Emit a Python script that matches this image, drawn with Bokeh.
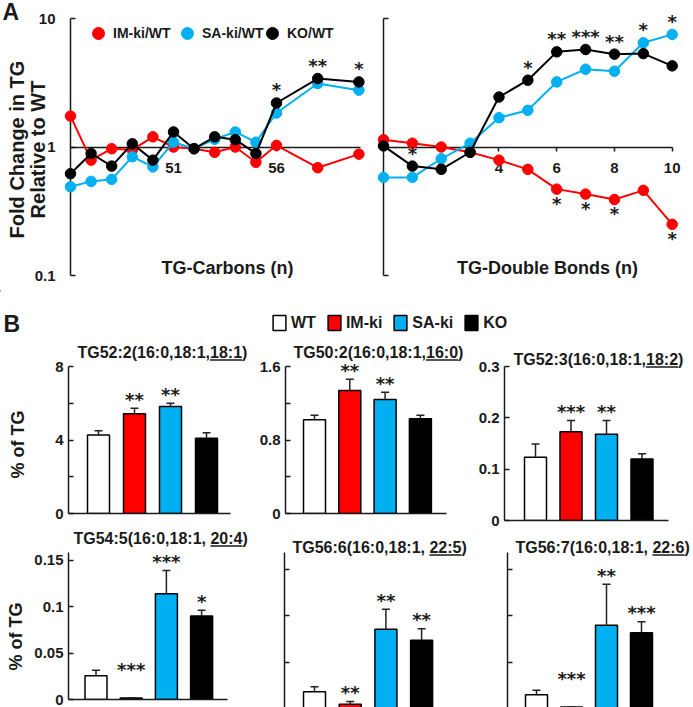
import math
from bokeh.plotting import figure
from bokeh.models import (Range1d, FixedTicker, Legend, LegendItem,
                          Whisker, TeeHead, ColumnDataSource)
from bokeh.layouts import column, row
from bokeh.embed import file_html
from bokeh.resources import INLINE
from bokeh.core.properties import value

# ---------------------------------------------------------------- data: panel A
carbons = [46, 47, 48, 49, 50, 51, 52, 53, 54, 55, 56, 58, 60]
im_carbons = [1.74, 0.79, 0.97, 0.95, 1.20, 1.00, 0.97, 0.91, 1.00, 0.76, 1.03, 0.69, 0.88]
sa_carbons = [0.49, 0.54, 0.56, 0.84, 0.70, 1.09, 0.97, 1.15, 1.31, 1.09, 1.84, 3.12, 2.77]
ko_carbons = [0.62, 0.89, 0.71, 1.06, 0.79, 1.31, 0.97, 1.20, 1.14, 0.89, 2.20, 3.41, 3.21]
carbon_ticks = [51, 56]

double_bonds = [0, 1, 2, 3, 4, 5, 6, 7, 8, 9, 10]
im_bonds = [1.14, 1.07, 1.00, 0.91, 0.79, 0.67, 0.47, 0.43, 0.39, 0.46, 0.25]
sa_bonds = [0.58, 0.58, 0.81, 1.07, 1.69, 1.93, 3.21, 4.03, 3.89, 6.47, 7.52]
ko_bonds = [1.02, 0.71, 0.67, 0.91, 2.45, 3.31, 5.50, 5.74, 5.28, 5.33, 4.28]
bond_ticks = [2, 4, 6, 8, 10]

fold_ticks = [0.1, 1, 10]
fold_tick_labels = ["0.1", "1", "10"]

ratio_names = ["IM-ki/WT", "SA-ki/WT", "KO/WT"]
ratio_keys = ["IM", "SA", "KO"]

carbon_sig_x = [56, 58, 60]
carbon_sig_text = ["*", "**", "*"]
carbon_sig_series = ["KO", "KO", "KO"]
carbon_sig_side = ["above", "above", "above"]

bond_sig_x = [1, 5, 6, 7, 8, 9, 10, 6, 7, 8, 10]
bond_sig_text = ["*", "*", "**", "***", "**", "*", "*", "*", "*", "*", "*"]
bond_sig_series = ["KO", "KO", "KO", "KO", "KO", "SA", "SA", "IM", "IM", "IM", "IM"]
bond_sig_side = ["above", "above", "above", "above", "above", "above", "above",
                 "below", "below", "below", "below"]

# ---------------------------------------------------------------- data: panel B
groups = ["WT", "IM-ki", "SA-ki", "KO"]

tg52_2_title = ["TG52:2(16:0,18:1,", "18:1", ")"]
tg52_2_mean = [4.27, 5.43, 5.82, 4.09]
tg52_2_sem = [0.23, 0.30, 0.18, 0.31]
tg52_2_sig = ["", "**", "**", ""]

tg50_2_title = ["TG50:2(16:0,18:1,", "16:0", ")"]
tg50_2_mean = [1.02, 1.34, 1.24, 1.03]
tg50_2_sem = [0.05, 0.12, 0.08, 0.04]
tg50_2_sig = ["", "**", "**", ""]

tg52_3_title = ["TG52:3(16:0,18:1,", "18:2", ")"]
tg52_3_mean = [0.123, 0.173, 0.168, 0.120]
tg52_3_sem = [0.026, 0.022, 0.027, 0.010]
tg52_3_sig = ["", "***", "**", ""]

tg54_5_title = ["TG54:5(16:0,18:1, ", "20:4", ")"]
tg54_5_mean = [0.0255, 0.0015, 0.114, 0.090]
tg54_5_sem = [0.0060, 0.0004, 0.025, 0.006]
tg54_5_sig = ["", "***", "***", "*"]

tg56_6_title = ["TG56:6(16:0,18:1, ", "22:5", ")"]
tg56_6_mean = [0.018, 0.0046, 0.0854, 0.0735]
tg56_6_sem = [0.0054, 0.0029, 0.0216, 0.0125]
tg56_6_sig = ["", "**", "**", "**"]

tg56_7_title = ["TG56:7(16:0,18:1, ", "22:6", ")"]
tg56_7_mean = [0.0147, 0.0015, 0.0897, 0.0815]
tg56_7_sem = [0.0050, 0.0004, 0.0441, 0.0119]
tg56_7_sig = ["", "***", "**", "***"]

tick_8 = [0, 2, 4, 6, 8]
tick_8_labels = ["0", "", "4", "", "8"]
tick_16 = [0, 0.4, 0.8, 1.2, 1.6]
tick_16_labels = ["0", "", "0.8", "", "1.6"]
tick_03 = [0, 0.1, 0.2, 0.3]
tick_03_labels = ["0", "0.1", "0.2", "0.3"]
tick_015 = [0, 0.05, 0.1, 0.15]
tick_015_labels = ["0", "0.05", "0.1", "0.15"]
tick_015_blank = ["", "", "", ""]

# ---------------------------------------------------------------- style
FONT = "Liberation Sans"
STAR_FONT = "DejaVu Sans"
INK = "#1a1a1a"
RED = "#ff0000"
BLUE = "#00b0f0"
BLACK = "#000000"
ratio_colors = [RED, BLUE, BLACK]
group_colors = ["#ffffff", RED, BLUE, BLACK]

# advance widths of Arial / Liberation Sans Bold glyphs (1/1000 em)
BOLD_W = {"T": 611, "G": 778, ":": 333, "(": 333, ")": 333, ",": 278, " ": 278}
for d in "0123456789":
    BOLD_W[d] = 556


def text_w(s, size):
    return sum(BOLD_W.get(c, 556) for c in s) * size / 1000.0


class Mapper:
    """page pixel -> data coordinate helpers for one frame"""
    def __init__(self, fx, fy, xr, yr, ylog=False):
        self.fx, self.fy, self.xr, self.yr, self.ylog = fx, fy, xr, yr, ylog

    def x(self, px):
        return self.xr[0] + (px - self.fx[0]) / (self.fx[1] - self.fx[0]) * (self.xr[1] - self.xr[0])

    def y(self, py):
        t = (self.fy[1] - py) / (self.fy[1] - self.fy[0])
        if self.ylog:
            a, b = math.log10(self.yr[0]), math.log10(self.yr[1])
            return 10 ** (a + t * (b - a))
        return self.yr[0] + t * (self.yr[1] - self.yr[0])


def make_panel(cx, cy, fx, fy, xr, yr, ylog=False):
    p = figure(frame_width=fx[1] - fx[0], frame_height=fy[1] - fy[0],
               min_border_left=fx[0] - cx[0], min_border_right=cx[1] - fx[1],
               min_border_top=fy[0] - cy[0], min_border_bottom=cy[1] - fy[1],
               x_range=Range1d(*xr), y_range=Range1d(*yr),
               y_axis_type="log" if ylog else "linear",
               output_backend="svg", toolbar_location=None)
    p.outline_line_color = None
    p.grid.visible = False
    p.background_fill_color = "white"
    p.border_fill_color = "white"
    for ax in p.axis:
        ax.axis_line_color = INK
        ax.axis_line_width = 1.5
        ax.major_tick_line_color = INK
        ax.major_tick_line_width = 1.5
        ax.minor_tick_line_color = None
        ax.major_label_text_font = FONT
        ax.major_label_text_font_style = "bold"
        ax.major_label_text_font_size = "15px"
        ax.major_label_text_color = INK
    return p, Mapper(fx, fy, xr, yr, ylog)


def label(p, x, y, text, size, align="center", angle=0):
    """free text drawn as an unclipped text glyph (vertically centred on y)"""
    p.text(x=[x], y=[y], text=[text], text_font=value(FONT), text_font_style="bold",
           text_font_size=f"{size}px", text_color=INK, text_align=align,
           text_baseline="middle", angle=math.radians(angle), level="overlay")


def ratio_panel(p, xs, series, sig_x, sig_text, sig_series, sig_side):
    dots = []
    for ys, col in zip(series, ratio_colors):
        p.line(xs, ys, line_color=col, line_width=2, level="overlay")
        dots.append(p.scatter(xs, ys, size=10.5, fill_color=col, line_color=col, level="overlay"))
    lookup = dict(zip(ratio_keys, series))
    sy = [lookup[s][xs.index(x)] for x, s in zip(sig_x, sig_series)]
    off = [-13 if side == "above" else 14 for side in sig_side]
    src = ColumnDataSource(dict(x=sig_x, y=sy, t=sig_text, o=off))
    p.text(x="x", y="y", text="t", y_offset="o", source=src, text_font=value(STAR_FONT),
           text_font_style="bold", text_font_size="18px", text_color=INK,
           text_align="center", text_baseline="alphabetic", level="overlay")
    return dots


def legend_box(p, item, vx, vy, size="16px", **kw):
    p.add_layout(Legend(items=[item], location=(vx, vy), padding=0, margin=0,
                        border_line_color=None, background_fill_alpha=0,
                        label_text_font=FONT, label_text_font_style="bold",
                        label_text_font_size=size, label_text_color=INK, **kw))


# ================================================================ panel A (left)
carb_range = (46, 46 + 292 / 20.6)
fold_range = (0.1, 10)
pA1, mA1 = make_panel((0, 375), (0, 290), (70, 362), (18, 275), carb_range, fold_range, ylog=True)
dotsA = ratio_panel(pA1, carbons, [im_carbons, sa_carbons, ko_carbons],
                    carbon_sig_x, carbon_sig_text, carbon_sig_series, carbon_sig_side)
ya = pA1.yaxis[0]
ya.ticker = FixedTicker(ticks=fold_ticks)
ya.major_label_overrides = dict(zip(fold_ticks, fold_tick_labels))
ya.major_tick_in, ya.major_tick_out, ya.major_label_standoff = 5, 0, 15
xa = pA1.xaxis[0]
xa.ticker = FixedTicker(ticks=carbon_ticks)
xa.fixed_location = 1
xa.bounds = (carb_range[0], mA1.x(360))
xa.major_tick_in, xa.major_tick_out, xa.major_label_standoff = 0, 4, 12

label(pA1, mA1.x(227), mA1.y(267), "TG-Carbons (n)", 18)
label(pA1, mA1.x(2), mA1.y(11), "A", 23, align="left")
label(pA1, mA1.x(16), mA1.y(149), "Fold Change in TG", 20, angle=90)
label(pA1, mA1.x(37), mA1.y(149), "Relative to WT", 20, angle=90)

# one legend entry per series, each placed at its own spot along the top of the frame
for name, r, vx in zip(ratio_names, dotsA, [13, 102, 187]):
    legend_box(pA1, LegendItem(label=name, renderers=[r]), vx, 227, size="14px",
               glyph_width=30, glyph_height=30, label_standoff=-6, label_height=30)

# ================================================================ panel A (right)
bond_range = (0, 299 / 28.87)
pA2, mA2 = make_panel((375, 693), (0, 290), (383, 682), (18, 275), bond_range, fold_range, ylog=True)
ratio_panel(pA2, double_bonds, [im_bonds, sa_bonds, ko_bonds],
            bond_sig_x, bond_sig_text, bond_sig_series, bond_sig_side)
ya = pA2.yaxis[0]
ya.ticker = FixedTicker(ticks=fold_ticks)
ya.major_label_overrides = {t: "" for t in fold_ticks}
ya.major_tick_in, ya.major_tick_out, ya.major_label_standoff = 5, 0, 0
xa = pA2.xaxis[0]
xa.ticker = FixedTicker(ticks=bond_ticks)
xa.fixed_location = 1
xa.bounds = (0, 10)
xa.major_tick_in, xa.major_tick_out, xa.major_label_standoff = 0, 4, 12
label(pA2, mA2.x(547), mA2.y(267), "TG-Double Bonds (n)", 18)

# ================================================================ header of panel B
HDR_H = 48
hdr = figure(frame_width=693, frame_height=HDR_H, min_border=0,
             x_range=Range1d(0, 693), y_range=Range1d(HDR_H, 0),
             output_backend="svg", toolbar_location=None)
hdr.axis.visible = False
hdr.grid.visible = False
hdr.outline_line_color = None
label(hdr, 3, 33.5, "B", 23, align="left")
# legend swatches: a zero-height placeholder bar per group, kept outside the visible range
swatch_src = ColumnDataSource(dict(x=[-50, -50, -50, -50], top=[0, 0, 0, 0], color=group_colors))
swatch = hdr.vbar(x="x", top="top", width=1, fill_color="color", line_color=BLACK,
                  line_width=1.5, source=swatch_src)
hdr.add_layout(Legend(items=[LegendItem(label=g, renderers=[swatch], index=i)
                             for i, g in enumerate(groups)],
                      orientation="horizontal", location=(271, 6), glyph_width=16, glyph_height=19,
                      label_standoff=4, spacing=10, padding=0, margin=0, border_line_color=None,
                      background_fill_alpha=0, label_text_font=FONT, label_text_font_style="bold",
                      label_text_font_size="16px", label_text_color=INK, label_height=19))


# ================================================================ bar panels
def bar_panel(cx, cy, fx, fy, c1, step, ymax, title, mean, sem, sig, ticks, tick_labels,
              title_px, title_mid, sig_floor=0.0, ylabel_at=None):
    xr = ((fx[0] - c1) / step, (fx[1] - c1) / step)
    p, m = make_panel(cx, cy, fx, fy, xr, (0, ymax))
    xs = list(range(len(groups)))
    upper = [a + b for a, b in zip(mean, sem)]
    src = ColumnDataSource(dict(x=xs, top=mean, upper=upper, color=group_colors))
    p.vbar(x="x", top="top", width=22 / step, fill_color="color", line_color=BLACK,
           line_width=1.5, source=src)
    p.add_layout(Whisker(source=src, base="x", lower="top", upper="upper", dimension="height",
                         line_color="#222222", line_width=1.5, lower_head=None,
                         upper_head=TeeHead(size=8, line_color="#222222", line_width=1.5),
                         level="overlay"))
    star_y = [max(u, sig_floor) for u in upper]
    ssrc = ColumnDataSource(dict(x=xs, y=star_y, t=sig))
    p.text(x="x", y="y", text="t", source=ssrc, y_offset=-9, text_font=value(STAR_FONT),
           text_font_style="bold", text_font_size="18px", text_color=INK,
           text_align="center", text_baseline="alphabetic", level="overlay")
    ya = p.yaxis[0]
    ya.ticker = FixedTicker(ticks=ticks)
    ya.major_label_overrides = dict(zip(ticks, tick_labels))
    ya.major_tick_in, ya.major_tick_out, ya.major_label_standoff = 5, 0, 5
    xa = p.xaxis[0]
    xa.ticker = FixedTicker(ticks=[])
    xa.major_tick_in, xa.major_tick_out, xa.major_label_standoff = 0, 0, 0
    # title with the last fatty acid underlined
    label(p, m.x(title_px), m.y(title_mid), "".join(title), 16, align="left")
    u0 = title_px + text_w(title[0], 16)
    u1 = u0 + text_w(title[1], 16)
    p.segment(x0=[m.x(u0)], y0=[m.y(title_mid + 8)], x1=[m.x(u1)], y1=[m.y(title_mid + 8)],
              line_color=INK, line_width=1.3, level="overlay")
    if ylabel_at is not None:
        label(p, m.x(ylabel_at[0]), m.y(ylabel_at[1]), "% of TG", 18, angle=90)
    return p


ROW1 = (338, 528)
ROW2 = (528, 707)
pB1 = bar_panel((0, 253), ROW1, (68, 230), (366, 513), 98, 36, 8,
                tg52_2_title, tg52_2_mean, tg52_2_sem, tg52_2_sig, tick_8, tick_8_labels,
                77, 351.5, ylabel_at=(17, 444))
pB2 = bar_panel((253, 466), ROW1, (285, 446), (366, 513), 314, 35.3, 1.6,
                tg50_2_title, tg50_2_mean, tg50_2_sem, tg50_2_sig, tick_16, tick_16_labels,
                293, 351.5)
pB3 = bar_panel((466, 693), ROW1, (504, 668), (359, 513), 535, 35.5, 0.3,
                tg52_3_title, tg52_3_mean, tg52_3_sem, tg52_3_sig, tick_03, tick_03_labels,
                513, 351.5)
pB4 = bar_panel((0, 258), ROW2, (68, 227), (552, 699), 95.5, 35.2, 147 / 928.7,
                tg54_5_title, tg54_5_mean, tg54_5_sem, tg54_5_sig, tick_015, tick_015_labels,
                73, 537.5, sig_floor=0.023, ylabel_at=(15, 636))
pB5 = bar_panel((258, 472), ROW2, (284, 443), (543, 699), 314, 35.7, 156 / 928.7,
                tg56_6_title, tg56_6_mean, tg56_6_sem, tg56_6_sig, tick_015, tick_015_blank,
                292, 537.5)
pB6 = bar_panel((472, 693), ROW2, (507, 668), (543, 699), 536, 35, 156 / 928.7,
                tg56_7_title, tg56_7_mean, tg56_7_sem, tg56_7_sig, tick_015, tick_015_blank,
                515, 537.5, sig_floor=0.023)

layout = column(row(pA1, pA2), hdr, row(pB1, pB2, pB3), row(pB4, pB5, pB6))
open("out.html", "w").write(file_html(layout, INLINE, title="TG lipidomics"))
